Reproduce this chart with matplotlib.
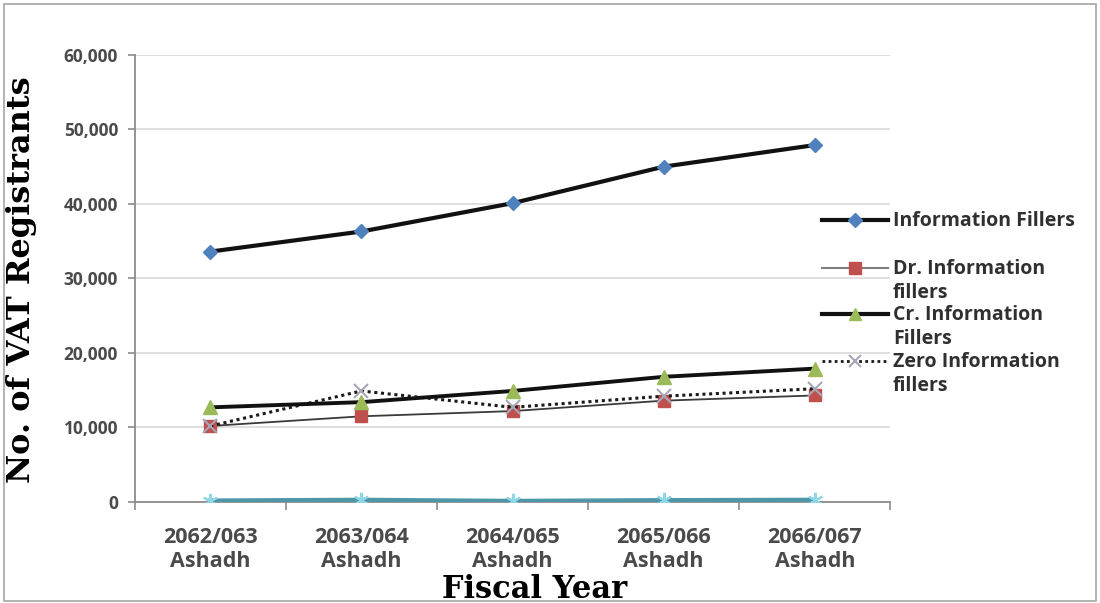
import matplotlib
matplotlib.use("Agg")
import matplotlib.pyplot as plt
from matplotlib.lines import Line2D
from matplotlib.patches import Rectangle
from matplotlib.ticker import FuncFormatter, FixedLocator

# Data: VAT registrants by information-filing type, per fiscal year (Ashadh)
years = ["2062/063\nAshadh", "2063/064\nAshadh", "2064/065\nAshadh",
         "2065/066\nAshadh", "2066/067\nAshadh"]
info_fillers = [33600, 36300, 40100, 45000, 47900]
dr_fillers = [10200, 11500, 12200, 13600, 14300]
cr_fillers = [12700, 13400, 14900, 16800, 17900]
zero_fillers = [10200, 14900, 12700, 14200, 15200]
other_fillers = [200, 300, 150, 250, 300]

legend_labels = ["Information Fillers", "Dr. Information\nfillers",
                 "Cr. Information\nFillers", "Zero Information\nfillers"]

SANS = "Open Sans"
SERIF = "DejaVu Serif"

fig = plt.figure(figsize=(11, 6.03), dpi=100)
ax = fig.add_axes([0.1225, 0.1675, 0.687, 0.7415])

x = list(range(len(years)))

ax.plot(x, other_fillers, color="#4E97A8", lw=3, marker=(6, 2, 0), ms=11,
        mec="#8FD6E6", mew=1.5, zorder=3)
ax.plot(x, dr_fillers, color="#3A3A3A", lw=1.3, marker="s", ms=8,
        mfc="#C0504D", mec="#C0504D", zorder=4)
ax.plot(x, zero_fillers, color="#1A1A1A", lw=2.2, ls=(0, (1, 1.2)),
        marker="x", ms=10, mec="#A6A6B8", mew=1.5, zorder=4)
ax.plot(x, cr_fillers, color="#111111", lw=2.8, marker="^", ms=10,
        mfc="#9BBB59", mec="#9BBB59", zorder=5)
ax.plot(x, info_fillers, color="#111111", lw=3, marker="D", ms=7,
        mfc="#4F81BD", mec="#4F81BD", zorder=5)

ax.set_xlim(-0.5, len(years) - 0.5)
ax.set_ylim(0, 60000)
ax.set_yticks(range(0, 60001, 10000))
ax.yaxis.set_major_formatter(FuncFormatter(lambda v, p: f"{int(v):,}"))
ax.grid(axis="y", color="#D9D9D9", lw=1.2)
ax.set_axisbelow(True)

ax.xaxis.set_major_locator(FixedLocator([i + 0.5 for i in range(-1, len(years))]))
ax.xaxis.set_major_formatter(FuncFormatter(lambda v, p: ""))
ax.xaxis.set_minor_locator(FixedLocator(x))
ax.set_xticklabels(years, minor=True)
ax.tick_params(axis="x", which="major", length=6, width=1.2, color="#8C8C8C",
               direction="out")
ax.tick_params(axis="x", which="minor", length=0, pad=18, labelsize=15.5,
               labelcolor="#4A4A4A")
ax.tick_params(axis="y", length=5, width=1.2, color="#8C8C8C", pad=7,
               labelsize=12.5, labelcolor="#4A4A4A")
for lbl in ax.get_xticklabels(minor=True) + ax.get_yticklabels():
    lbl.set_fontweight("bold")
    lbl.set_family(SANS)
for lbl in ax.get_xticklabels(minor=True):
    lbl.set_linespacing(1.2)

for side in ["top", "right"]:
    ax.spines[side].set_visible(False)
for side in ["left", "bottom"]:
    ax.spines[side].set_color("#8C8C8C")
    ax.spines[side].set_linewidth(1.3)

fig.text(0.02, 0.536, "No. of VAT Registrants", rotation=90, ha="center",
         va="center", fontsize=23, fontweight="bold", family=SERIF,
         color="#000000")
fig.text(0.486, 0.022, "Fiscal Year", ha="center", va="center", fontsize=22,
         fontweight="bold", family=SERIF, color="#000000")

# Legend drawn entry by entry so each handle sits on the first text line
W, H = 1100, 603
def fx(px):
    return px / W
def fy(py):
    return 1 - py / H

handles = [
    dict(color="#111111", lw=3, marker="D", ms=7, mfc="#4F81BD", mec="#4F81BD", ls="-"),
    dict(color="#7F7F7F", lw=1.5, marker="s", ms=8, mfc="#C0504D", mec="#C0504D", ls="-"),
    dict(color="#111111", lw=3, marker="^", ms=9, mfc="#9BBB59", mec="#9BBB59", ls="-"),
    dict(color="#1A1A1A", lw=2, marker="x", ms=8, mec="#A6A6B8", mew=1.5, ls=(0, (1, 1.2))),
]
rows = [220, 268, 314, 361]
for lab, style, row in zip(legend_labels, handles, rows):
    ln = Line2D([fx(822), fx(855), fx(888)], [fy(row)] * 3, markevery=[1],
                transform=fig.transFigure, **style)
    fig.add_artist(ln)
    for k, part in enumerate(lab.split("\n")):
        fig.text(fx(893), fy(row + 6 + 24 * k), part, ha="left", va="baseline",
                 fontsize=14, fontweight="bold", family=SANS, color="#303030")

fig.add_artist(Rectangle((0.004, 0.004), 0.992, 0.99, transform=fig.transFigure,
                         fill=False, ec="#A6A6A6", lw=1.2))

fig.savefig("out.png", dpi=100)
